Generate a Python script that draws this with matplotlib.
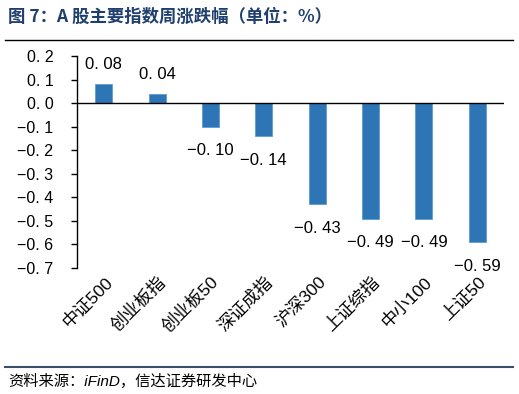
import matplotlib
matplotlib.use('Agg')
import matplotlib.pyplot as plt
from matplotlib.lines import Line2D

plt.rcParams['font.family'] = ['Liberation Sans', 'Noto Sans CJK SC', 'DejaVu Sans']
plt.rcParams['axes.unicode_minus'] = False

categories = ['中证500', '创业板指', '创业板50', '深证成指', '沪深300', '上证综指', '中小100', '上证50']
values = [0.08, 0.04, -0.10, -0.14, -0.43, -0.49, -0.49, -0.59]
yticks = [0.2, 0.1, 0.0, -0.1, -0.2, -0.3, -0.4, -0.5, -0.6, -0.7]


def fmt(v, digits):
    s = ('%.' + str(digits) + 'f') % v
    return s.replace('-', '−').replace('.', '. ')


fig = plt.figure(figsize=(5.19, 3.94), dpi=100)
ax = fig.add_axes([77 / 519, 1 - 268 / 394, 427 / 519, 212 / 394])

x = list(range(len(categories)))
ax.bar(x, values, width=0.32, color='#2E75B6', edgecolor='#5B9BD5', linewidth=0.6, zorder=2)
ax.axhline(0, color='black', linewidth=1, zorder=3)

for xi, v in zip(x, values):
    if v >= 0:
        ax.text(xi, v + 0.05, fmt(v, 2), ha='center', va='bottom', fontsize=12)
    else:
        ax.text(xi, v - 0.07, fmt(v, 2), ha='center', va='top', fontsize=12)

ax.set_xlim(-0.5, len(categories) - 0.5)
ax.set_ylim(-0.7, 0.2)
ax.set_yticks(yticks)
ax.set_yticklabels([fmt(t, 1) for t in yticks], fontsize=11.5)
ax.set_xticks(x)
ax.set_xticklabels(categories, rotation=45, ha='right', rotation_mode='anchor', fontsize=12.5)
ax.tick_params(axis='x', length=0, pad=4)
ax.tick_params(axis='y', length=4, direction='out', width=1, pad=13)

for side in ['top', 'right', 'bottom']:
    ax.spines[side].set_visible(False)
ax.spines['left'].set_linewidth(1)

fig.text(8 / 519, 1 - 17 / 394, '图 7：A 股主要指数周涨跌幅（单位：%）', fontsize=12.5, fontweight='bold',
         color='#1F3F6E', va='center', ha='left', family=['Noto Sans CJK SC', 'DejaVu Sans'])
fig.add_artist(Line2D([5 / 519, 513 / 519], [1 - 40 / 394, 1 - 40 / 394], color='black', linewidth=1))
fig.add_artist(Line2D([5 / 519, 513 / 519], [1 - 367 / 394, 1 - 367 / 394], color='#3B4F6B', linewidth=1.5))
fig.text(8 / 519, 1 - 381 / 394, '资料来源：iFinD，信达证券研发中心', fontsize=11, style='italic',
         va='center', ha='left')

fig.savefig('out.png', dpi=100)
